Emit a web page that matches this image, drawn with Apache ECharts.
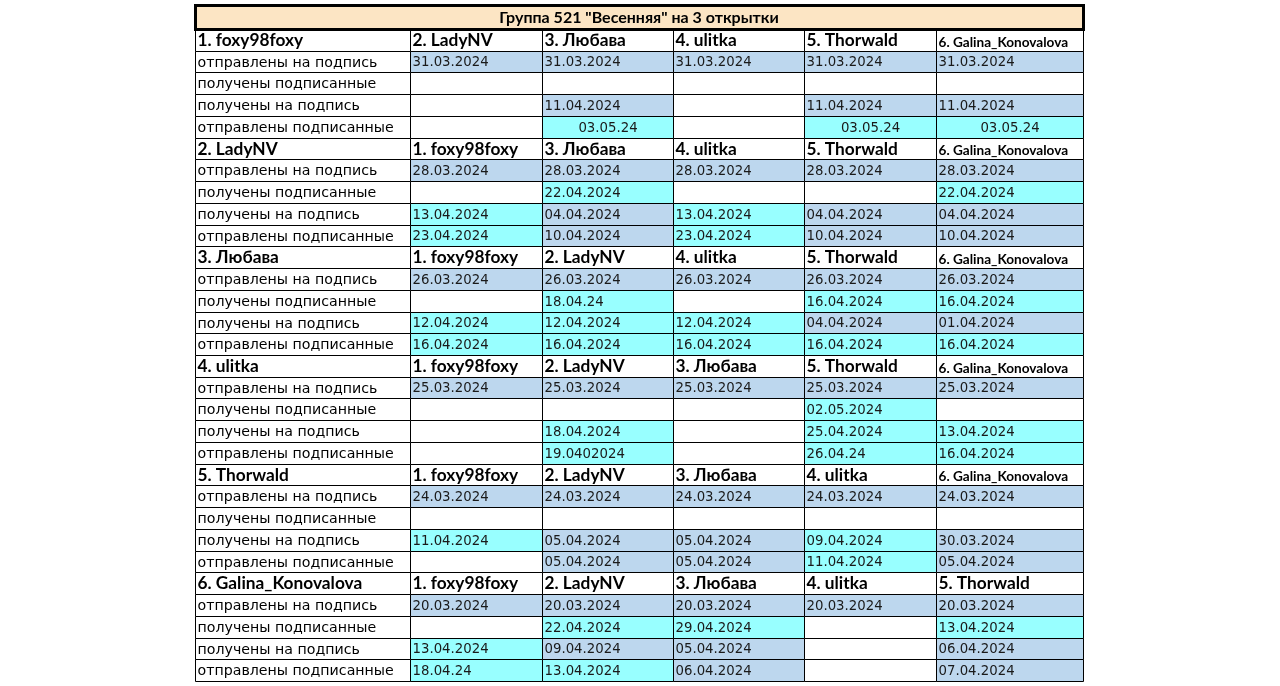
<!DOCTYPE html>
<html>
<head>
<meta charset="utf-8">
<script src="https://cdn.jsdelivr.net/npm/echarts@6/dist/echarts.min.js"></script>
<style>
  html, body { margin: 0; padding: 0; background: #fff; }
  #chart { width: 1280px; height: 686px; }
</style>
</head>
<body>
<div id="chart"></div>
<script>
const title = 'Группа 521 "Весенняя" на 3 открытки'
const participants = ['1. foxy98foxy', '2. LadyNV', '3. Любава', '4. ulitka', '5. Thorwald', '6. Galina_Konovalova']
const stages = ['отправлены на подпись', 'получены подписанные', 'получены на подпись', 'отправлены подписанные']

// даты по блокам: 4 строки (этапа) x 5 партнёров
const dates1 = [
  ['31.03.2024', '31.03.2024', '31.03.2024', '31.03.2024', '31.03.2024'],
  ['', '', '', '', ''],
  ['', '11.04.2024', '', '11.04.2024', '11.04.2024'],
  ['', '03.05.24', '', '03.05.24', '03.05.24']
]
const dates2 = [
  ['28.03.2024', '28.03.2024', '28.03.2024', '28.03.2024', '28.03.2024'],
  ['', '22.04.2024', '', '', '22.04.2024'],
  ['13.04.2024', '04.04.2024', '13.04.2024', '04.04.2024', '04.04.2024'],
  ['23.04.2024', '10.04.2024', '23.04.2024', '10.04.2024', '10.04.2024']
]
const dates3 = [
  ['26.03.2024', '26.03.2024', '26.03.2024', '26.03.2024', '26.03.2024'],
  ['', '18.04.24', '', '16.04.2024', '16.04.2024'],
  ['12.04.2024', '12.04.2024', '12.04.2024', '04.04.2024', '01.04.2024'],
  ['16.04.2024', '16.04.2024', '16.04.2024', '16.04.2024', '16.04.2024']
]
const dates4 = [
  ['25.03.2024', '25.03.2024', '25.03.2024', '25.03.2024', '25.03.2024'],
  ['', '', '', '02.05.2024', ''],
  ['', '18.04.2024', '', '25.04.2024', '13.04.2024'],
  ['', '19.0402024', '', '26.04.24', '16.04.2024']
]
const dates5 = [
  ['24.03.2024', '24.03.2024', '24.03.2024', '24.03.2024', '24.03.2024'],
  ['', '', '', '', ''],
  ['11.04.2024', '05.04.2024', '05.04.2024', '09.04.2024', '30.03.2024'],
  ['', '05.04.2024', '05.04.2024', '11.04.2024', '05.04.2024']
]
const dates6 = [
  ['20.03.2024', '20.03.2024', '20.03.2024', '20.03.2024', '20.03.2024'],
  ['', '22.04.2024', '29.04.2024', '', '13.04.2024'],
  ['13.04.2024', '09.04.2024', '05.04.2024', '', '06.04.2024'],
  ['18.04.24', '13.04.2024', '06.04.2024', '', '07.04.2024']
]
// отметки ячеек: b - голубая, c - бирюзовая, . - без заливки
const marks1 = ['bbbbb', '.....', '.b.bb', '.c.cc']
const marks2 = ['bbbbb', '.c..c', 'cbcbb', 'cbcbb']
const marks3 = ['bbbbb', '.c.cc', 'cccbb', 'ccccc']
const marks4 = ['bbbbb', '...c.', '.c.cc', '.c.cc']
const marks5 = ['bbbbb', '.....', 'cbbcb', '.bbcb']
const marks6 = ['bbbbb', '.cc.c', 'cbb.b', 'ccb.b']

const allDates = [dates1, dates2, dates3, dates4, dates5, dates6]
const allMarks = [marks1, marks2, marks3, marks4, marks5, marks6]

// ширины колонок (разметка)
const colWidths = [215, 131.7, 131.6, 131, 131.7, 147.3]
const colStart = [0]
colWidths.forEach((w, i) => colStart.push(colStart[i] + w))
const tableWidth = colStart[colWidths.length]

const fillColors = { b: '#BDD7EE', c: '#98FFFF', '.': '#FFFFFF' }
const bodyFont = 'DejaVu Sans'
const headFont = 'Lato'

// собираем ячейки
const cells = []
const rowNames = []
allDates.forEach((block, b) => {
  const headRow = rowNames.length
  rowNames.push(participants[b])
  cells.push({ col: 0, row: headRow, text: participants[b], kind: 'head', fill: '.' })
  participants.filter((p, i) => i !== b).forEach((p, j) => {
    cells.push({ col: j + 1, row: headRow, text: p, kind: j === 4 && b < 5 ? 'headSmall' : 'head', fill: '.' })
  })
  stages.forEach((s, k) => {
    const r = rowNames.length
    rowNames.push(s)
    cells.push({ col: 0, row: r, text: s, kind: 'label', fill: '.' })
    block[k].forEach((d, j) => {
      cells.push({
        col: j + 1, row: r, text: d, fill: allMarks[b][k][j],
        kind: b === 0 && k === 3 ? 'center' : 'date'
      })
    })
  })
})

const textStyles = {
  head: { fontFamily: headFont, fontWeight: 'bold', fontSize: 17.3, dy: 0, color: '#000' },
  headSmall: { fontFamily: headFont, fontWeight: 'bold', fontSize: 13.6, dy: 2, color: '#000' },
  label: { fontFamily: bodyFont, fontWeight: 'normal', fontSize: 14.2, dy: 1, color: '#000' },
  date: { fontFamily: bodyFont, fontWeight: 'normal', fontSize: 13.3, dy: 1, color: '#1a1a1a' },
  center: { fontFamily: bodyFont, fontWeight: 'normal', fontSize: 13.3, dy: 1, color: '#1a1a1a' }
}

function renderCell(params, api) {
  const c = cells[params.dataIndex]
  const a = api.coord([api.value(0), api.value(1)])
  const e = api.coord([api.value(0) + colWidths[c.col], api.value(1)])
  const h = api.size([0, 1])[1]
  const x0 = Math.round(a[0]) + 0.5
  const x1 = Math.round(e[0]) + 0.5
  const y0 = Math.round(a[1] - h / 2) + 0.5
  const y1 = Math.round(a[1] + h / 2) + 0.5
  const ts = textStyles[c.kind]
  const centered = c.kind === 'center'
  return {
    type: 'group',
    children: [
      {
        type: 'rect',
        shape: { x: x0, y: y0, width: x1 - x0, height: y1 - y0 },
        style: { fill: fillColors[c.fill], stroke: '#000', lineWidth: 1 }
      },
      {
        type: 'text',
        x: centered ? (x0 + x1) / 2 : x0 + 2,
        y: (y0 + y1) / 2 + ts.dy,
        style: {
          text: c.text,
          fill: ts.color,
          font: ts.fontWeight + ' ' + ts.fontSize + 'px "' + ts.fontFamily + '"',
          align: centered ? 'center' : 'left',
          verticalAlign: 'middle'
        }
      }
    ]
  }
}

function renderTitle(params, api) {
  const a = api.coord([0, 0])
  const e = api.coord([tableWidth, 0])
  const h = api.size([0, 1])[1]
  const y0 = Math.round(a[1] - h / 2) + 0.5
  const y1 = Math.round(a[1] + h / 2) + 0.5
  return {
    type: 'group',
    children: [
      {
        type: 'rect',
        shape: { x: Math.round(a[0]) + 0.5, y: y0, width: Math.round(e[0]) - Math.round(a[0]), height: y1 - y0 },
        style: { fill: '#FCE5C4', stroke: '#000', lineWidth: 3 }
      },
      {
        type: 'text',
        x: (a[0] + e[0]) / 2,
        y: (y0 + y1) / 2 + 0.5,
        style: {
          text: title,
          fill: '#000',
          font: 'bold 16px "' + headFont + '"',
          align: 'center',
          verticalAlign: 'middle'
        }
      }
    ]
  }
}

const chart = echarts.init(document.getElementById('chart'))
chart.setOption({
  animation: false,
  grid: [
    { left: 195, width: 888, top: 5, height: 24 },
    { left: 195, width: 888, top: 29, height: 652 }
  ],
  xAxis: [
    { gridIndex: 0, type: 'value', min: 0, max: tableWidth, show: false },
    { gridIndex: 1, type: 'value', min: 0, max: tableWidth, show: false }
  ],
  yAxis: [
    { gridIndex: 0, type: 'category', data: [title], show: false },
    { gridIndex: 1, type: 'category', data: rowNames.map((r, i) => i + ' ' + r), inverse: true, show: false }
  ],
  series: [
    {
      type: 'custom',
      xAxisIndex: 1,
      yAxisIndex: 1,
      renderItem: renderCell,
      data: cells.map(c => [colStart[c.col], c.row])
    },
    {
      type: 'custom',
      xAxisIndex: 0,
      yAxisIndex: 0,
      renderItem: renderTitle,
      data: [[0, 0]]
    }
  ]
})
</script>
</body>
</html>
